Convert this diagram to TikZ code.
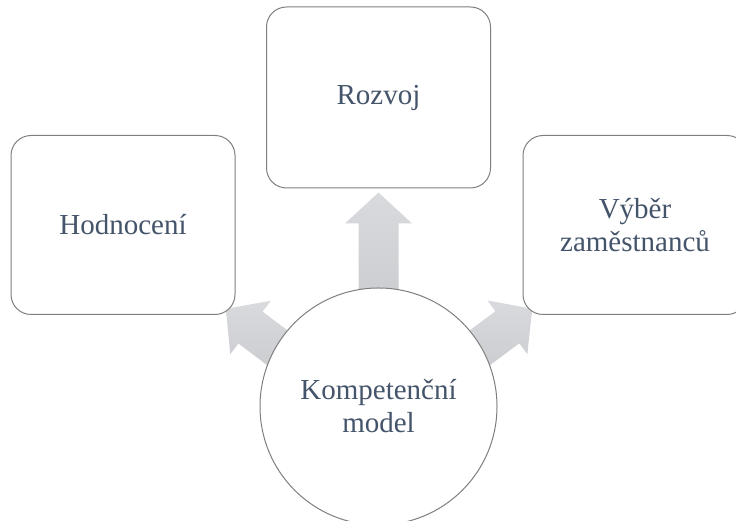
\documentclass[tikz,border=0pt]{standalone}
\usepackage{fontspec}
\setmainfont{Liberation Serif}
\usetikzlibrary{calc,backgrounds}
\definecolor{txtslate}{HTML}{44546A}
\definecolor{edgegray}{HTML}{7F7F7F}
\definecolor{arrtop}{RGB}{217,218,222}
\definecolor{arrbot}{RGB}{203,205,209}
\tikzset{
  kmp_node/.style = {align=center, inner sep=0pt, text centered,
    font=\fontsize{29}{33}\selectfont, text=txtslate},
  kmp_box/.style = {kmp_node, rectangle, rounded corners=20pt, draw=edgegray,
    fill=white, line width=1pt, minimum width=224pt, minimum height=179pt},% blok s textem
  kmp_hub/.style = {kmp_node, circle, draw=edgegray, fill=white,
    line width=1pt, minimum size=237pt},% stredovy kruh
  kmp_arrow/.style = {top color=arrtop, bottom color=arrbot, draw=none}
}
% sipka: #1 zacatek, #2 hrot
\newcommand{\blokarrow}[2]{%
  \coordinate (h) at ($(#2)!31pt!(#1)$);
  \shade[kmp_arrow] ($(#1)!20pt!90:(#2)$) -- ($(h)!20pt!-90:(#1)$)
    -- ($(h)!33.5pt!-90:(#1)$) -- (#2) -- ($(h)!33.5pt!90:(#1)$)
    -- ($(h)!20pt!90:(#1)$) -- ($(#1)!20pt!-90:(#2)$) -- cycle;}

\begin{document}
\begin{tikzpicture}[x=1pt,y=1pt]
\useasboundingbox (0,0) rectangle (736,521);
\node [kmp_box, minimum height=181pt] (rozvoj) at (378.5,423.5) {Rozvoj};
\node [kmp_box] (hodn) at (123,296) {Hodnocení};
\node [kmp_box] (vyber) at (635,296) {Výběr\\zaměstnanců};
\node [kmp_hub] (model) at (378.5,114.5) {Kompetenční\\model};

\coordinate (up_s) at ($(model.center)+(0,106.5)$);
\coordinate (up_t) at ($(rozvoj.south)+(0,-4)$);
\coordinate (lt_s) at ($(model.center)+(-97,55.5)$);
\coordinate (lt_t) at ($(hodn.south east)+(-9.7,6.2)$);
\coordinate (rt_s) at ($(model.center)+(97,55.5)$);
\coordinate (rt_t) at ($(vyber.south west)+(9.7,6.2)$);

\begin{scope}[on background layer]
  \blokarrow{up_s}{up_t}
  \blokarrow{lt_s}{lt_t}
  \blokarrow{rt_s}{rt_t}
\end{scope}
\end{tikzpicture}
\end{document}
